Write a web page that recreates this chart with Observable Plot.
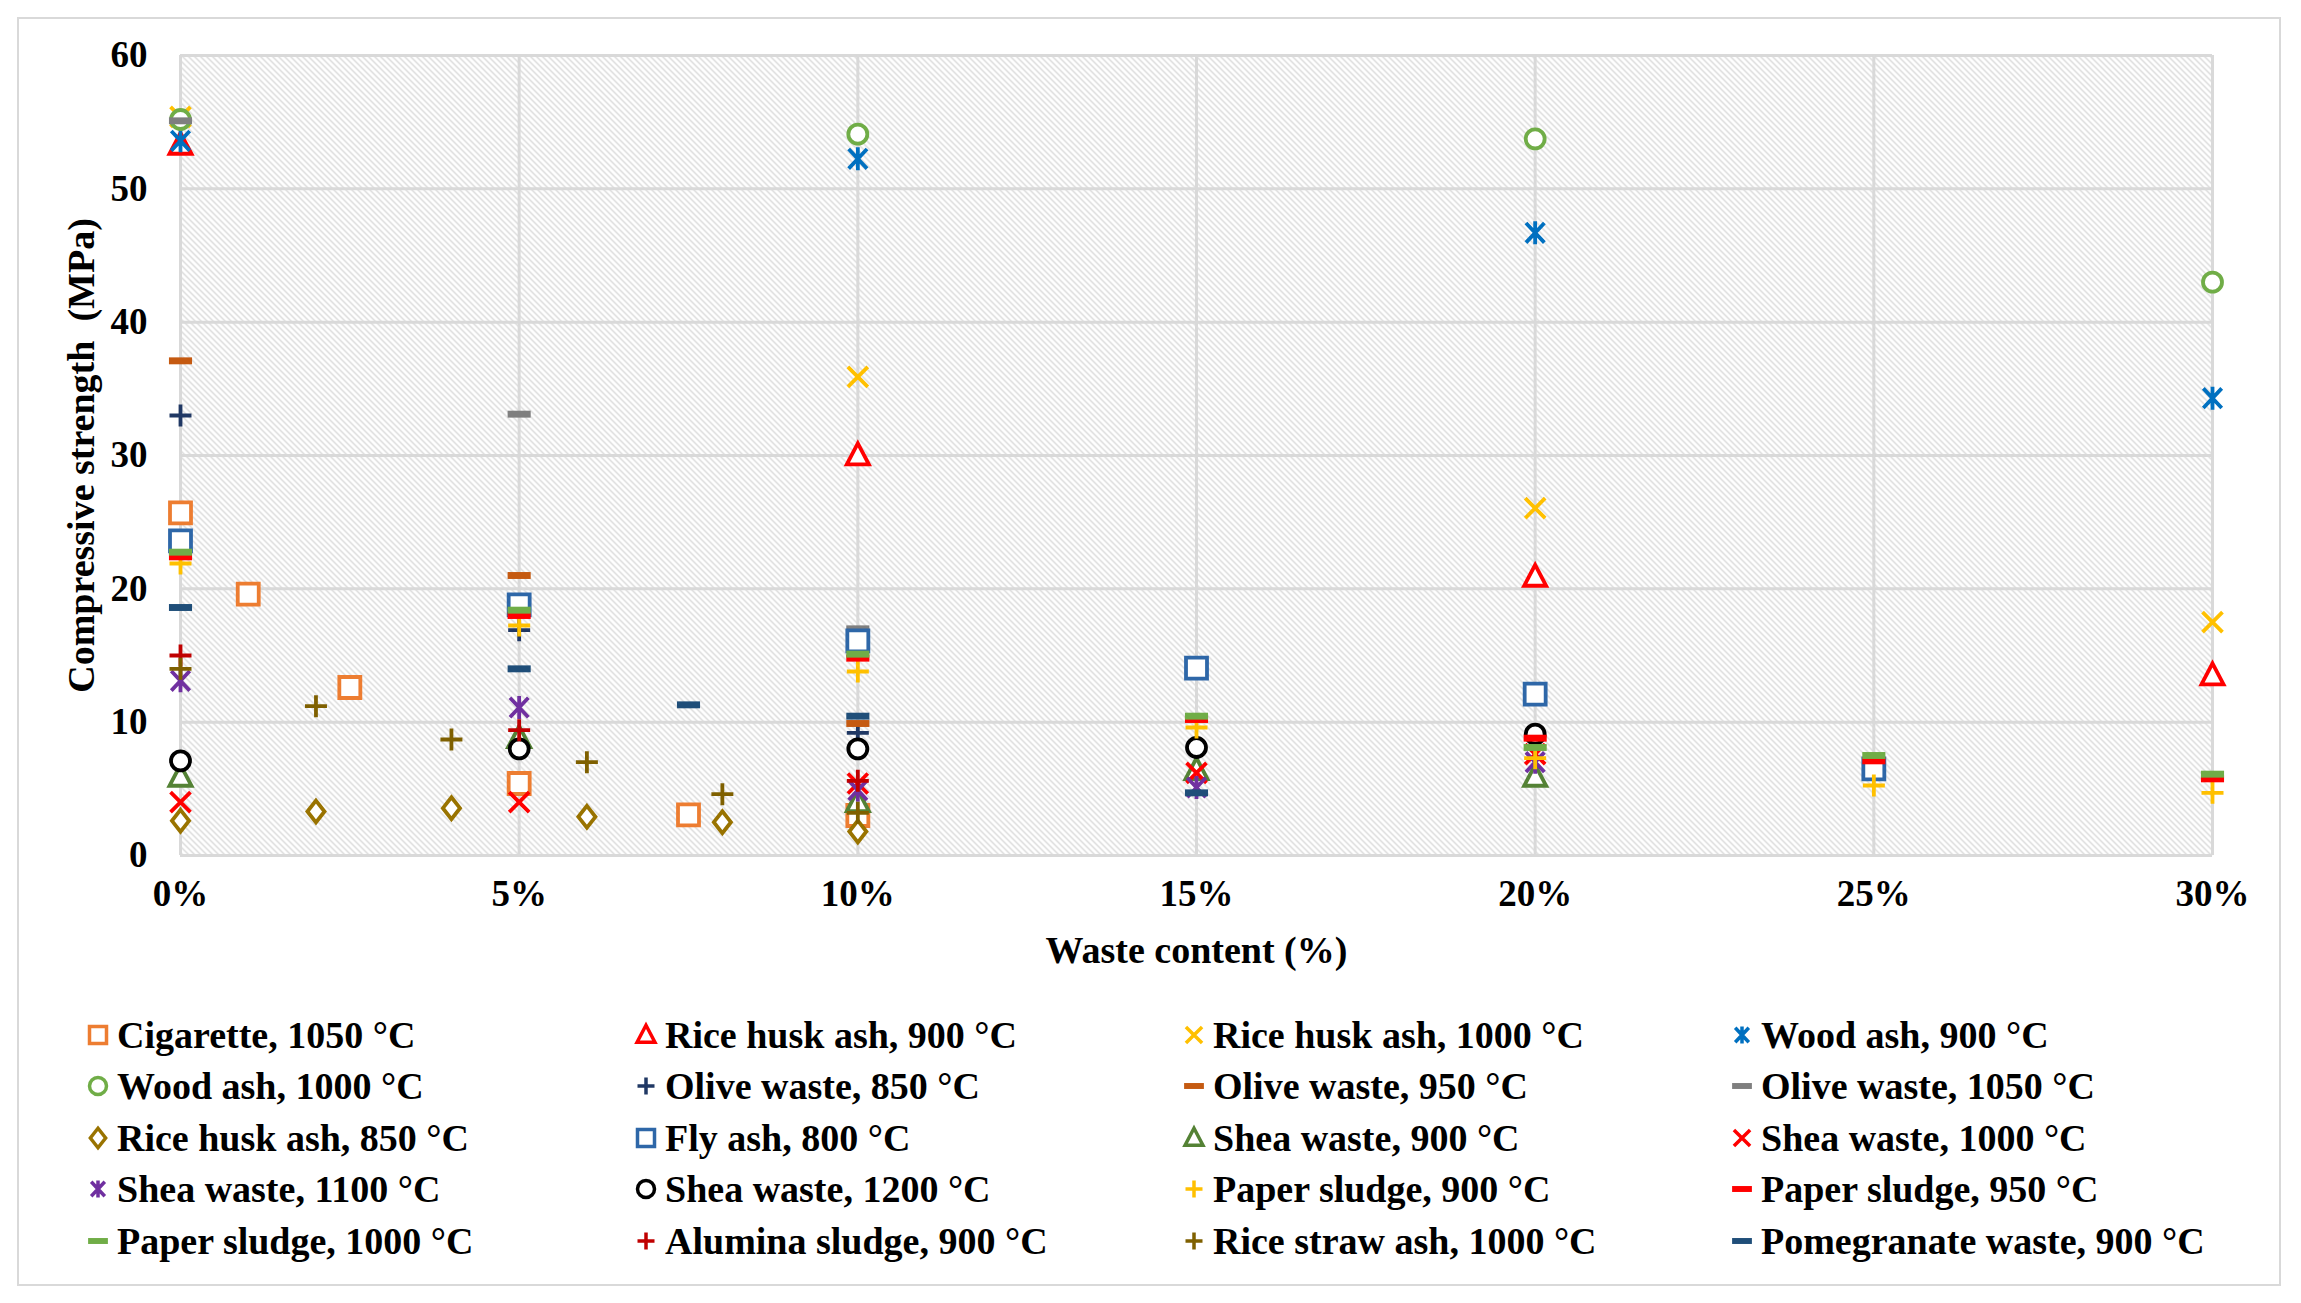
<!DOCTYPE html>
<html><head><meta charset="utf-8">
<script src="https://cdn.jsdelivr.net/npm/d3@7"></script>
<script src="https://cdn.jsdelivr.net/npm/@observablehq/plot@0.6"></script>
<style>
body{margin:0;background:#fff;}
#wrap{position:relative;width:2301px;height:1303px;overflow:hidden;font-family:"Liberation Serif","Times New Roman",serif;font-weight:bold;color:#000;}
#border{position:absolute;left:17px;top:17px;width:2264px;height:1269px;border:2px solid #d9d9d9;box-sizing:border-box;}
#chart{position:absolute;left:0;top:0;}
#legend{position:absolute;left:85px;top:1009px;display:grid;grid-template-columns:repeat(4,548px);grid-auto-rows:51.5px;font-size:38px;}
.item{display:flex;align-items:center;white-space:nowrap;}
.item svg{width:26px;height:40px;margin-right:6px;flex:none;overflow:visible;}
</style></head>
<body><div id="wrap"><div id="border"></div><div id="chart"></div><div id="legend"></div></div>
<script>
// ---- axis ticks ----
const xTicks = [0, 5, 10, 15, 20, 25, 30];
const xTickLabels = ["0%", "5%", "10%", "15%", "20%", "25%", "30%"];
const yTicks = [0, 10, 20, 30, 40, 50, 60];
const xTitle = "Waste content (%)";
const yTitle = "Compressive strength\u00a0 (MPa)";

// ---- series (legend order) ----
const seriesNames = [
  "Cigarette, 1050 °C", "Rice husk ash, 900 °C", "Rice husk ash, 1000 °C", "Wood ash, 900 °C",
  "Wood ash, 1000 °C", "Olive waste, 850 °C", "Olive waste, 950 °C", "Olive waste, 1050 °C",
  "Rice husk ash, 850 °C", "Fly ash, 800 °C", "Shea waste, 900 °C", "Shea waste, 1000 °C",
  "Shea waste, 1100 °C", "Shea waste, 1200 °C", "Paper sludge, 900 °C", "Paper sludge, 950 °C",
  "Paper sludge, 1000 °C", "Alumina sludge, 900 °C", "Rice straw ash, 1000 °C", "Pomegranate waste, 900 °C"
];
const seriesColors = [
  "#ED7D31", "#FF0000", "#FFC000", "#0070C0",
  "#70AD47", "#203864", "#C55A11", "#7F7F7F",
  "#997300", "#2E67A8", "#548235", "#FF0000",
  "#7030A0", "#000000", "#FFC000", "#FF0000",
  "#70AD47", "#C00000", "#7F6000", "#1F4E79"
];
const seriesMarkers = [
  "square", "triangle", "times", "asterisk",
  "circle", "plus", "dash", "dash",
  "diamond", "square", "triangle", "times",
  "asterisk", "circle", "plus", "dash",
  "dash", "plus", "plus", "dash"
];

// ---- values: waste content (%) and compressive strength (MPa) ----
const cigaretteX = [0, 1, 2.5, 5, 7.5, 10];
const cigaretteY = [25.7, 19.6, 12.6, 5.4, 3.05, 3.0];
const rha900X = [0, 10, 20, 30];
const rha900Y = [53.3, 30.0, 20.9, 13.5];
const rha1000X = [0, 10, 20, 30];
const rha1000Y = [55.4, 35.9, 26.05, 17.5];
const wood900X = [0, 10, 20, 30];
const wood900Y = [53.6, 52.25, 46.7, 34.3];
const wood1000X = [0, 10, 20, 30];
const wood1000Y = [55.2, 54.1, 53.75, 43.0];
const olive850X = [0, 5, 10];
const olive850Y = [33.0, 16.9, 9.2];
const olive950X = [0, 5, 10];
const olive950Y = [37.1, 21.0, 9.9];
const olive1050X = [0, 5, 10];
const olive1050Y = [55.1, 33.1, 17.0];
const rha850X = [0, 2, 4, 6, 8, 10];
const rha850Y = [2.6, 3.3, 3.55, 2.9, 2.5, 1.8];
const flyAshX = [0, 5, 10, 15, 20, 25];
const flyAshY = [23.6, 18.8, 16.1, 14.05, 12.1, 6.5];
const shea900X = [0, 5, 10, 15, 20];
const shea900Y = [5.9, 8.8, 4.0, 6.4, 5.9];
const shea1000X = [0, 5, 10, 15, 20];
const shea1000Y = [4.0, 4.0, 5.4, 6.2, 7.6];
const shea1100X = [0, 5, 10, 15, 20];
const shea1100Y = [13.1, 11.1, 4.9, 5.1, 7.0];
const shea1200X = [0, 5, 10, 15, 20];
const shea1200Y = [7.1, 8.0, 8.0, 8.1, 9.1];
const paper900X = [0, 5, 10, 15, 20, 25, 30];
const paper900Y = [21.9, 17.25, 13.8, 9.6, 7.3, 5.25, 4.7];
const paper950X = [0, 5, 10, 15, 20, 25, 30];
const paper950Y = [22.4, 18.0, 14.8, 10.2, 8.8, 7.1, 5.75];
const paper1000X = [0, 5, 10, 15, 20, 25, 30];
const paper1000Y = [22.75, 18.4, 15.1, 10.45, 8.1, 7.5, 6.1];
const aluminaX = [0, 5, 10];
const aluminaY = [15.0, 9.4, 5.6];
const riceStrawX = [0, 2, 4, 6, 8, 10];
const riceStrawY = [14.0, 11.2, 8.7, 7.0, 4.6, 3.2];
const pomegranateX = [0, 5, 7.5, 10, 15];
const pomegranateY = [18.6, 14.0, 11.3, 10.45, 4.7];

const seriesX = [cigaretteX, rha900X, rha1000X, wood900X, wood1000X, olive850X, olive950X, olive1050X,
  rha850X, flyAshX, shea900X, shea1000X, shea1100X, shea1200X, paper900X, paper950X, paper1000X,
  aluminaX, riceStrawX, pomegranateX];
const seriesY = [cigaretteY, rha900Y, rha1000Y, wood900Y, wood1000Y, olive850Y, olive950Y, olive1050Y,
  rha850Y, flyAshY, shea900Y, shea1000Y, shea1100Y, shea1200Y, paper900Y, paper950Y, paper1000Y,
  aluminaY, riceStrawY, pomegranateY];

// ---- marker shapes (Excel-like) ----
const rOf = size => Math.sqrt(size / Math.PI);
const shapes = {
  square: {draw(c, s) { const r = rOf(s); c.rect(-r, -r, 2 * r, 2 * r); }},
  circle: {draw(c, s) { const r = rOf(s); c.moveTo(r, 0); c.arc(0, 0, r, 0, 2 * Math.PI); }},
  triangle: {draw(c, s) { const r = rOf(s); c.moveTo(0, -1.15 * r); c.lineTo(1.05 * r, 0.85 * r); c.lineTo(-1.05 * r, 0.85 * r); c.closePath(); }},
  diamond: {draw(c, s) { const r = rOf(s); c.moveTo(0, -1.15 * r); c.lineTo(0.9 * r, 0); c.lineTo(0, 1.15 * r); c.lineTo(-0.9 * r, 0); c.closePath(); }},
  times: {draw(c, s) { const r = rOf(s) * 0.95; c.moveTo(-r, -r); c.lineTo(r, r); c.moveTo(-r, r); c.lineTo(r, -r); }},
  plus: {draw(c, s) { const r = rOf(s); c.moveTo(-r, 0); c.lineTo(r, 0); c.moveTo(0, -r); c.lineTo(0, r); }},
  asterisk: {draw(c, s) { const r = rOf(s); const a = 0.8 * r; c.moveTo(-a, -r * 0.85); c.lineTo(a, r * 0.85); c.moveTo(-a, r * 0.85); c.lineTo(a, -r * 0.85); c.moveTo(0, -r); c.lineTo(0, r); }},
  dash: {draw(c, s) { const r = rOf(s); c.rect(-1.1 * r, -0.33 * r, 2.2 * r, 0.66 * r); }}
};
const openShapes = new Set(["square", "circle", "triangle", "diamond"]);
const markerR = {square: 10.5, circle: 9.5, triangle: 10.5, diamond: 9.5, times: 10.5, plus: 11, asterisk: 11.5, dash: 10.5};

function styleFor(m, color) {
  if (m === "dash") return {fill: color, stroke: "none"};
  if (openShapes.has(m)) return {fill: "white", stroke: color, strokeWidth: 3.8};
  return {fill: "none", stroke: color, strokeWidth: 3.8};
}

const dotMarks = seriesNames.map((name, i) => {
  const data = seriesX[i].map((x, j) => ({x, y: seriesY[i][j]}));
  const m = seriesMarkers[i];
  return Plot.dot(data, {x: "x", y: "y", symbol: shapes[m], r: markerR[m], ...styleFor(m, seriesColors[i])});
});

const font = {fontFamily: "Liberation Serif", fontWeight: "bold"};
const chart = Plot.plot({
  width: 2301,
  height: 1000,
  marginLeft: 180, marginRight: 89, marginTop: 55, marginBottom: 145,
  style: {fontFamily: "Liberation Serif", fontWeight: "bold", color: "#000", background: "transparent", overflow: "visible"},
  x: {domain: [0, 30]},
  y: {domain: [0, 60]},
  marks: [
    Plot.frame({fill: "url(#hatch)", stroke: "none"}),
    Plot.gridY(yTicks, {stroke: "#d9d9d9", strokeOpacity: 1, strokeWidth: 3}),
    Plot.gridX(xTicks, {stroke: "#d9d9d9", strokeOpacity: 1, strokeWidth: 3}),
    Plot.axisX(xTicks, {tickSize: 0, tickPadding: 24, tickFormat: d => xTickLabels[xTicks.indexOf(d)], label: null, fontSize: 37, fill: "#000"}),
    Plot.axisY(yTicks, {tickSize: 0, tickPadding: 33, label: null, fontSize: 37, fill: "#000"}),
    Plot.text([xTitle], {text: d => d, frameAnchor: "bottom", dy: 107, fontSize: 38, fill: "#000", ...font}),
    Plot.text([yTitle], {text: d => d, frameAnchor: "left", textAnchor: "middle", dx: -99, rotate: -90, fontSize: 38, fill: "#000", ...font}),
    ...dotMarks
  ]
});

// hatch pattern for plot background
const defs = d3.select(chart).insert("defs", ":first-child");
const pat = defs.append("pattern").attr("id", "hatch").attr("patternUnits", "userSpaceOnUse").attr("width", 6).attr("height", 6);
pat.append("rect").attr("width", 6).attr("height", 6).attr("fill", "#ffffff");
pat.append("path").attr("d", "M0,0L6,6M-1,5L1,7M5,-1L7,1").attr("stroke", "#cdcdcd").attr("stroke-width", 1.1);

document.getElementById("chart").appendChild(chart);

// legend
const legend = d3.select("#legend");
seriesNames.forEach((name, i) => {
  const m = seriesMarkers[i];
  const item = legend.append("div").attr("class", "item");
  const svg = item.append("svg").attr("viewBox", "-13 -20 26 40");
  const st = styleFor(m, seriesColors[i]);
  const lr = m === "dash" ? 9 : 8.5;
  svg.append("path")
    .attr("d", d3.symbol(shapes[m], Math.PI * lr * lr)())
    .attr("fill", st.fill)
    .attr("stroke", st.stroke)
    .attr("stroke-width", st.strokeWidth ? 3.5 : null);
  item.append("span").text(name);
});
</script>
</body></html>
